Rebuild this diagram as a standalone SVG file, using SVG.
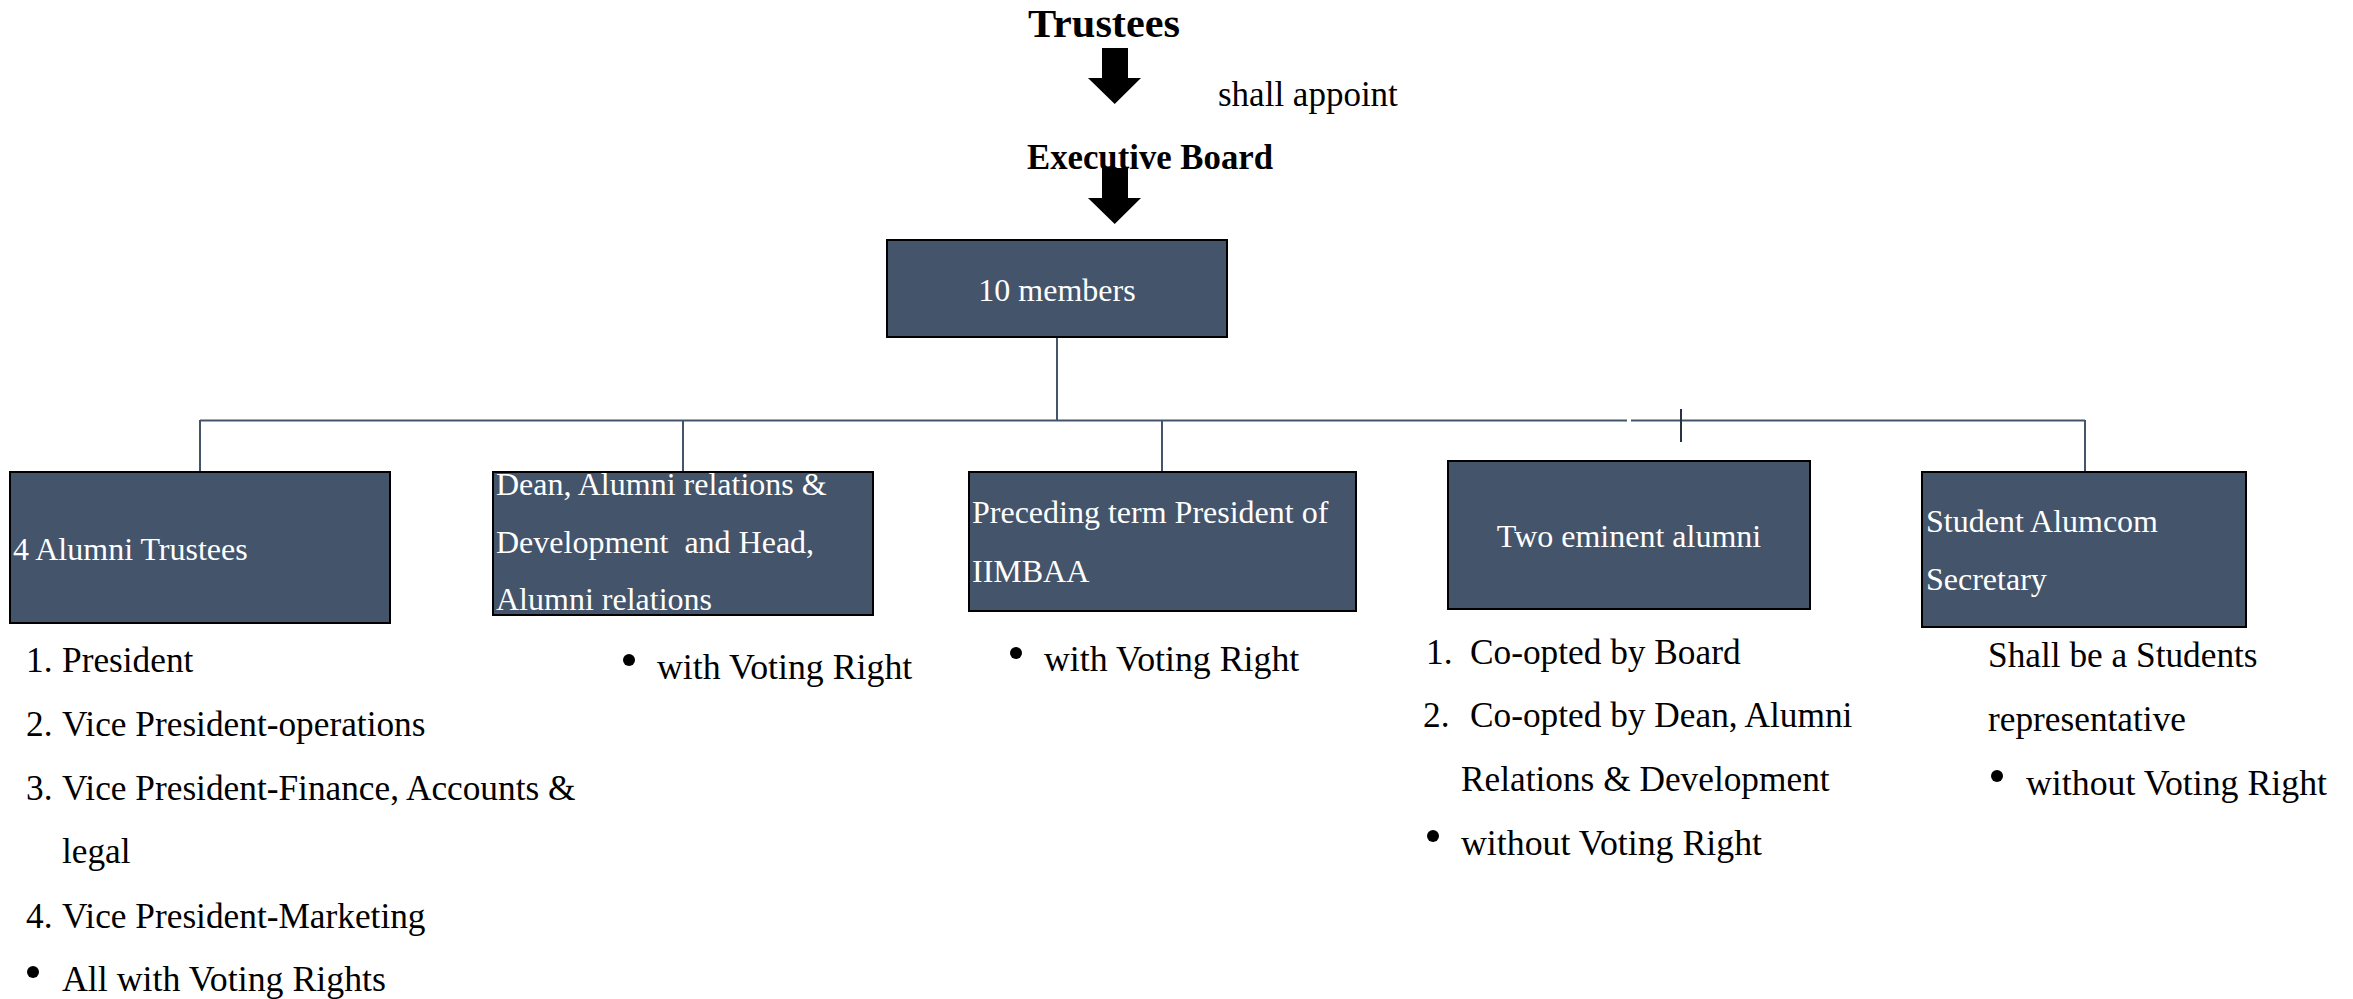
<svg xmlns="http://www.w3.org/2000/svg" width="2353" height="999" viewBox="0 0 2353 999">
<style>
.box{fill:#44546a;stroke:#000;stroke-width:2}
.bt{font-family:"Liberation Serif","Times New Roman",serif;font-size:32px;fill:#fff}
.t{font-family:"Liberation Serif","Times New Roman",serif;fill:#000}
.n{font-size:35.3px}
.b{font-size:35.8px}
.h{font-weight:bold}
.con{stroke:#44546a;stroke-width:2;fill:none}
.arr{fill:#000}
</style>
<rect width="2353" height="999" fill="#fff"/>
<g id="title">
<text class="t h" x="1028" y="37" font-size="40" textLength="152" lengthAdjust="spacingAndGlyphs">Trustees</text>
<polygon class="arr" points="1102,48 1128,48 1128,78 1141,78 1114.7,104 1088,78 1102,78"/>
<text class="t" x="1218" y="106" font-size="35">shall appoint</text>
<text class="t h" x="1027" y="169" font-size="36" textLength="246" lengthAdjust="spacingAndGlyphs">Executive Board</text>
<polygon class="arr" points="1102,168 1128,168 1128,198 1141,198 1114.7,224 1088,198 1102,198"/>
</g>
<g id="connectors">
<path class="con" d="M1057 338 V420.5"/>
<path class="con" d="M200 420.5 H1627 M1631 420.5 H2085"/>
<path class="con" d="M200 420 V472 M683 420 V472 M1162 420 V472 M2085 420 V472"/>
<path d="M1681 409 V442" stroke="#2a3240" stroke-width="2"/>
</g>
<g id="members">
<rect class="box" x="887" y="240" width="340" height="97"/>
<text class="bt" x="1057" y="301" text-anchor="middle" font-size="31.6">10 members</text>
</g>
<g id="alumni-trustees">
<rect class="box" x="10" y="472" width="380" height="151"/>
<text class="bt" x="13" y="560">4 Alumni Trustees</text>
<text class="t n" x="26" y="672">1.</text><text class="t n" x="62" y="672">President</text>
<text class="t n" x="26" y="736">2.</text><text class="t n" x="62" y="736">Vice President-operations</text>
<text class="t n" x="26" y="800">3.</text><text class="t n" x="62" y="800">Vice President-Finance, Accounts &amp;</text>
<text class="t n" x="62" y="863">legal</text>
<text class="t n" x="26" y="928">4.</text><text class="t n" x="62" y="928">Vice President-Marketing</text>
<circle cx="33" cy="972" r="6"/>
<text class="t b" x="62" y="991">All with Voting Rights</text>
</g>
<g id="dean">
<rect class="box" x="493" y="472" width="380" height="143"/>
<text class="bt" x="496" y="495">Dean, Alumni relations &amp;</text>
<text class="bt" x="496" y="553" xml:space="preserve">Development  and Head,</text>
<text class="bt" x="496" y="610">Alumni relations</text>
<circle cx="629" cy="660" r="6"/>
<text class="t b" x="657" y="679">with Voting Right</text>
</g>
<g id="preceding">
<rect class="box" x="969" y="472" width="387" height="139"/>
<text class="bt" x="972" y="523">Preceding term President of</text>
<text class="bt" x="972" y="582">IIMBAA</text>
<circle cx="1016" cy="653" r="6"/>
<text class="t b" x="1044" y="671">with Voting Right</text>
</g>
<g id="eminent">
<rect class="box" x="1448" y="461" width="362" height="148"/>
<text class="bt" x="1629" y="547" text-anchor="middle">Two eminent alumni</text>
<text class="t n" x="1426" y="664">1.</text><text class="t n" x="1470" y="664">Co-opted by Board</text>
<text class="t n" x="1423" y="727">2.</text><text class="t n" x="1470" y="727">Co-opted by Dean, Alumni</text>
<text class="t n" x="1461" y="791">Relations &amp; Development</text>
<circle cx="1433" cy="836" r="6"/>
<text class="t b" x="1461" y="855">without Voting Right</text>
</g>
<g id="student">
<rect class="box" x="1922" y="472" width="324" height="155"/>
<text class="bt" x="1926" y="532">Student Alumcom</text>
<text class="bt" x="1926" y="590">Secretary</text>
<text class="t n" x="1988" y="667">Shall be a Students</text>
<text class="t n" x="1988" y="731">representative</text>
<circle cx="1997" cy="776" r="6"/>
<text class="t b" x="2026" y="795">without Voting Right</text>
</g>
</svg>
